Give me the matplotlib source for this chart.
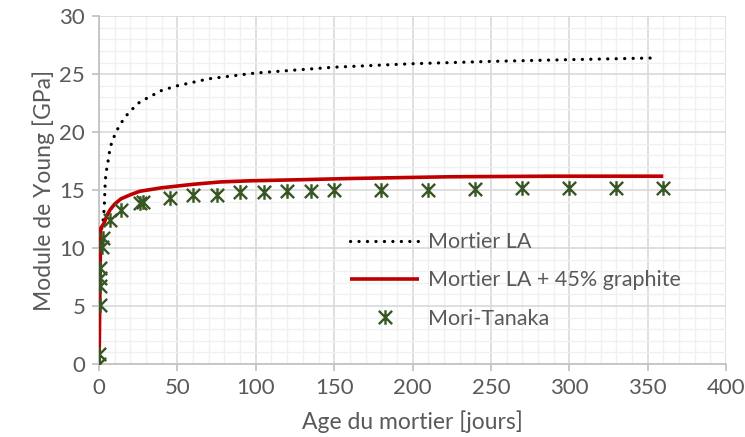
import numpy as np
import matplotlib
matplotlib.use("Agg")
import matplotlib.pyplot as plt
from matplotlib.path import Path
from matplotlib.ticker import MultipleLocator

plt.rcParams['font.family'] = ['Lato', 'DejaVu Sans']

# Mortier LA (black dotted)
t_la = [1.7, 2.8, 3.4, 3.8, 4.3, 5.5, 7, 8.5, 13, 19, 26, 40, 50, 70, 100, 150,
        200, 250, 300, 356]
e_la = [11.7, 12.6, 13.8, 15.3, 16.4, 17.3, 18.6, 19.3, 20.6, 21.7, 22.6, 23.6,
        24.0, 24.6, 25.1, 25.6, 25.9, 26.1, 26.25, 26.4]

# Mortier LA + 45% graphite (red)
t_gr = [0, 1, 3, 5, 7, 10, 14, 20, 26, 40, 60, 77, 96, 130, 160, 224, 290, 360]
e_gr = [0, 11.7, 12.1, 12.8, 13.3, 13.8, 14.25, 14.6, 14.9, 15.2, 15.5, 15.7,
        15.8, 15.9, 16.0, 16.15, 16.2, 16.2]

# Mori-Tanaka (green markers)
t_mt = [0, 0.1, 0.3, 0.5, 0.7, 0.9, 1.7, 2.8, 7, 14, 26, 28, 45, 60, 75, 90,
        105, 120, 135, 150, 180, 210, 240, 270, 300, 330, 360]
e_mt = [0, 0.9, 5.1, 6.7, 7.4, 8.3, 10.1, 10.9, 12.4, 13.3, 13.9, 14.0, 14.3,
        14.6, 14.6, 14.8, 14.85, 14.9, 14.95, 15.0, 15.0, 15.05, 15.1, 15.15,
        15.2, 15.2, 15.2]

TXT = '#595959'
GREEN = '#375623'

# Excel-style "star" marker: an X with a vertical bar
star = Path([(-1, -1), (1, 1), (-1, 1), (1, -1), (0, -1.1), (0, 1.1)],
            [Path.MOVETO, Path.LINETO, Path.MOVETO, Path.LINETO,
             Path.MOVETO, Path.LINETO])

fig = plt.figure(figsize=(7.45, 4.37), dpi=100)
ax = fig.add_axes([0.133, 0.167, 0.8415, 0.796])

ax.plot(t_la, e_la, color='black', lw=2.3, linestyle=(0, (0.05, 2.6)),
        dash_capstyle='round', label='Mortier LA', zorder=3)
ax.plot(t_gr, e_gr, color='#c00000', lw=2.6, label='Mortier LA + 45% graphite',
        zorder=4, solid_capstyle='butt')
ax.plot(t_mt, e_mt, linestyle='none', marker=star, markersize=10.5,
        markeredgewidth=1.7, color=GREEN, markeredgecolor=GREEN,
        label='Mori-Tanaka', zorder=5)

ax.set_xlim(0, 400)
ax.set_ylim(0, 30)
ax.xaxis.set_major_locator(MultipleLocator(50))
ax.xaxis.set_minor_locator(MultipleLocator(10))
ax.yaxis.set_major_locator(MultipleLocator(5))
ax.yaxis.set_minor_locator(MultipleLocator(1))

ax.grid(which='major', color='#d9d9d9', lw=1.2, zorder=0)
ax.grid(which='minor', color='#f0f0f0', lw=1.0, zorder=0)
ax.set_axisbelow(True)

for s in ['top', 'right']:
    ax.spines[s].set_visible(False)
for s in ['left', 'bottom']:
    ax.spines[s].set_color('#bfbfbf')
    ax.spines[s].set_linewidth(1.2)
ax.tick_params(which='major', length=5, color='#bfbfbf', width=1.2,
               labelsize=16, labelcolor=TXT, pad=5)
ax.tick_params(which='minor', length=0)

ax.set_xlabel('Age du mortier [jours]', fontsize=16.5, color=TXT, labelpad=9)
ax.set_ylabel('Module de Young [GPa]', fontsize=16.5, color=TXT, labelpad=3)

leg = ax.legend(loc='upper left', bbox_to_anchor=(0.37, 0.435), frameon=False,
                fontsize=15.5, labelcolor=TXT, handlelength=3.2,
                handletextpad=0.4, labelspacing=0.85)

fig.savefig('out.png', dpi=100)
